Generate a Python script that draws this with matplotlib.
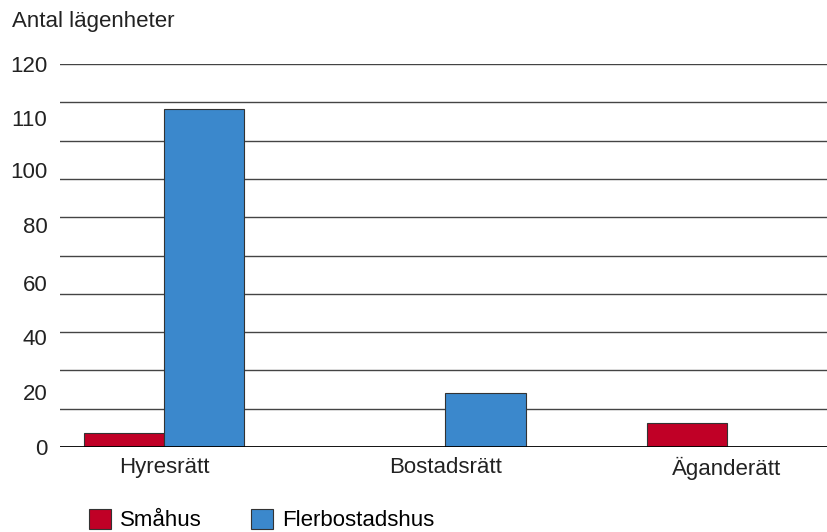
import matplotlib
matplotlib.use("Agg")
import matplotlib.pyplot as plt
import numpy as np
from matplotlib.patches import Patch

categories = ["Hyresrätt", "Bostadsrätt", "Äganderätt"]
smahus = [4.5, 0, 7.4]
flerbostadshus = [105.8, 17.0, 0]
series_names = ["Småhus", "Flerbostadshus"]
colors = ["#c00026", "#3b88cc"]

# y-axis labels and where they sit on the value scale
tick_labels = ["0", "20", "40", "60", "80", "100", "110", "120"]
tick_positions = [0, 17.2, 34.5, 51.4, 69.6, 86.8, 103.1, 120]
grid_values = np.arange(0, 121, 12)

plt.rcParams["font.family"] = ["Liberation Sans", "DejaVu Sans"]
txt = "#222222"

fig = plt.figure(figsize=(8.28, 5.32), dpi=100)
ax = fig.add_axes([60 / 828, 1 - 447 / 532, 768 / 828, (447 - 64) / 532])

x = np.arange(len(categories))
w = 0.285
ax.bar(x - w / 2, smahus, w, color=colors[0], edgecolor="#333333", linewidth=0.8, zorder=3)
ax.bar(x + w / 2, flerbostadshus, w, color=colors[1], edgecolor="#333333", linewidth=0.8, zorder=3)

for g in grid_values[1:]:
    ax.axhline(g, color="#444444", linewidth=1.0, zorder=1)
ax.axhline(0, color="black", linewidth=1.3, zorder=4)

ax.set_xlim(-0.37, 2.36)
ax.set_ylim(0, 120)
ax.set_xticks(x)
ax.set_xticklabels(categories, fontsize=16, color=txt)
ax.set_yticks(tick_positions)
ax.set_yticklabels(tick_labels, fontsize=16, color=txt)
ax.tick_params(axis="x", length=0, pad=7)
ax.tick_params(axis="y", length=0, pad=9)
for s in ax.spines.values():
    s.set_visible(False)

fig.text(12 / 828, 1 - 22 / 532, "Antal lägenheter", fontsize=16, color=txt, va="center", ha="left")

handles = [Patch(facecolor=c, edgecolor="#333333", linewidth=0.8) for c in colors]
fig.legend(handles, series_names, loc="center left", bbox_to_anchor=(89 / 828, 1 - 520 / 532),
           ncol=2, frameon=False, fontsize=16, handlelength=1.0, handleheight=1.0,
           handletextpad=0.4, columnspacing=2.2, borderaxespad=0, borderpad=0)

fig.savefig("out.png", dpi=100)
